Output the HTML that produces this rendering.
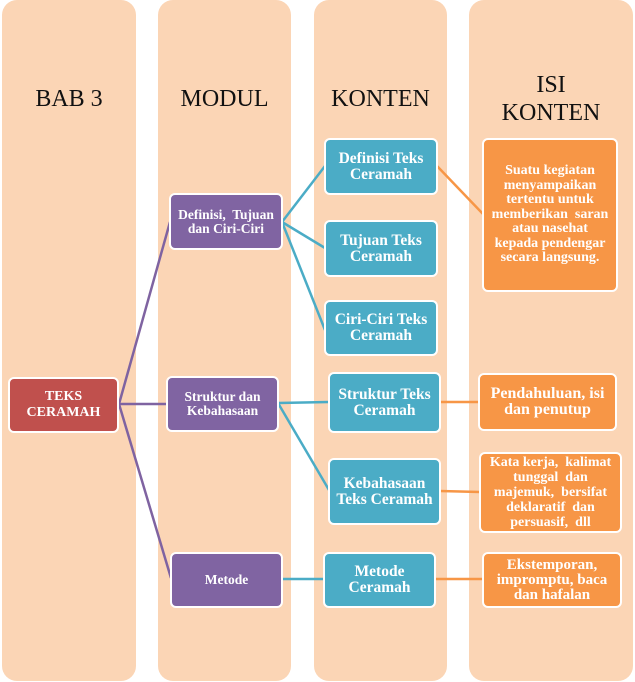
<!DOCTYPE html>
<html>
<head>
<meta charset="utf-8">
<style>
  html, body { margin:0; padding:0; background:#ffffff; }
  body { width:635px; height:682px; position:relative; overflow:hidden; }
  .col { position:absolute; top:0; height:681px; background:#FBD5B5; border-radius:15px; }
  .hdr { position:absolute; font-family:"Liberation Serif", serif; font-size:24px; line-height:28px; color:#111; text-align:center; }
  .node { position:absolute; box-sizing:border-box; border:2.5px solid #fff; border-radius:6px;
          display:flex; align-items:center; justify-content:center; text-align:center;
          font-family:"Liberation Serif", serif; font-weight:bold; color:#fff; }
  .red { background:#C0504D; font-size:14px; line-height:16px; }
  .pur { background:#8064A2; font-size:13.5px; line-height:14px; }
  .teal { background:#4BACC6; font-size:15.5px; line-height:16px; }
  .org { background:#F79646; font-size:14px; line-height:14.5px; }
  svg { position:absolute; left:0; top:0; }
</style>
</head>
<body>
  <div class="col" style="left:2px; width:134px;"></div>
  <div class="col" style="left:158px; width:133px;"></div>
  <div class="col" style="left:314px; width:133px;"></div>
  <div class="col" style="left:469px; width:164px;"></div>

  <div class="hdr" style="left:2px; width:134px; top:85px;">BAB 3</div>
  <div class="hdr" style="left:158px; width:133px; top:85px;">MODUL</div>
  <div class="hdr" style="left:314px; width:133px; top:85px;">KONTEN</div>
  <div class="hdr" style="left:469px; width:164px; top:71px;">ISI<br>KONTEN</div>

  <svg width="635" height="682" viewBox="0 0 635 682">
    <g stroke="#7F63A1" stroke-width="2.5" fill="none">
      <line x1="119" y1="404" x2="170" y2="222"/>
      <line x1="119" y1="404" x2="167" y2="404"/>
      <line x1="119" y1="404" x2="171" y2="578"/>
    </g>
    <g stroke="#4BACC6" stroke-width="2.5" fill="none">
      <line x1="282" y1="222" x2="325" y2="166"/>
      <line x1="282" y1="222" x2="325" y2="248"/>
      <line x1="282" y1="222" x2="325" y2="330"/>
      <line x1="278" y1="403" x2="329" y2="402"/>
      <line x1="278" y1="403" x2="329" y2="490"/>
      <line x1="282" y1="579" x2="324" y2="579"/>
    </g>
    <g stroke="#F79646" stroke-width="2.5" fill="none">
      <line x1="437" y1="166" x2="483" y2="214"/>
      <line x1="440" y1="402" x2="479" y2="402"/>
      <line x1="440" y1="491" x2="480" y2="492"/>
      <line x1="435" y1="579" x2="483" y2="579"/>
    </g>
  </svg>

  <div class="node red" style="left:8px; top:377px; width:111px; height:56px;">TEKS<br>CERAMAH</div>

  <div class="node pur" style="left:169px; top:193px; width:114px; height:57px;">Definisi,&nbsp; Tujuan<br>dan Ciri-Ciri</div>
  <div class="node pur" style="left:166px; top:376px; width:113px; height:56px;">Struktur dan<br>Kebahasaan</div>
  <div class="node pur" style="left:170px; top:552px; width:113px; height:56px;">Metode</div>

  <div class="node teal" style="left:324px; top:138px; width:114px; height:57px;">Definisi Teks<br>Ceramah</div>
  <div class="node teal" style="left:324px; top:220px; width:114px; height:57px;">Tujuan Teks<br>Ceramah</div>
  <div class="node teal" style="left:324px; top:300px; width:114px; height:56px;">Ciri-Ciri Teks<br>Ceramah</div>
  <div class="node teal" style="left:328px; top:372px; width:113px; height:61px;">Struktur Teks<br>Ceramah</div>
  <div class="node teal" style="left:328px; top:458px; width:113px; height:67px;">Kebahasaan<br>Teks Ceramah</div>
  <div class="node teal" style="left:323px; top:552px; width:113px; height:56px;">Metode<br>Ceramah</div>

  <div class="node org" style="left:482px; top:138px; width:136px; height:154px;">Suatu kegiatan<br>menyampaikan<br>tertentu untuk<br>memberikan&nbsp; saran<br>atau nasehat<br>kepada pendengar<br>secara langsung.</div>
  <div class="node org" style="left:478px; top:373px; width:139px; height:58px; font-size:16px; line-height:16px;">Pendahuluan, isi<br>dan penutup</div>
  <div class="node org" style="left:479px; top:452px; width:143px; height:81px; line-height:15px;">Kata kerja,&nbsp; kalimat<br>tunggal&nbsp; dan<br>majemuk,&nbsp; bersifat<br>deklaratif&nbsp; dan<br>persuasif,&nbsp; dll</div>
  <div class="node org" style="left:482px; top:552px; width:140px; height:56px; font-size:15px; line-height:15px;">Ekstemporan,<br>impromptu, baca<br>dan hafalan</div>
</body>
</html>
